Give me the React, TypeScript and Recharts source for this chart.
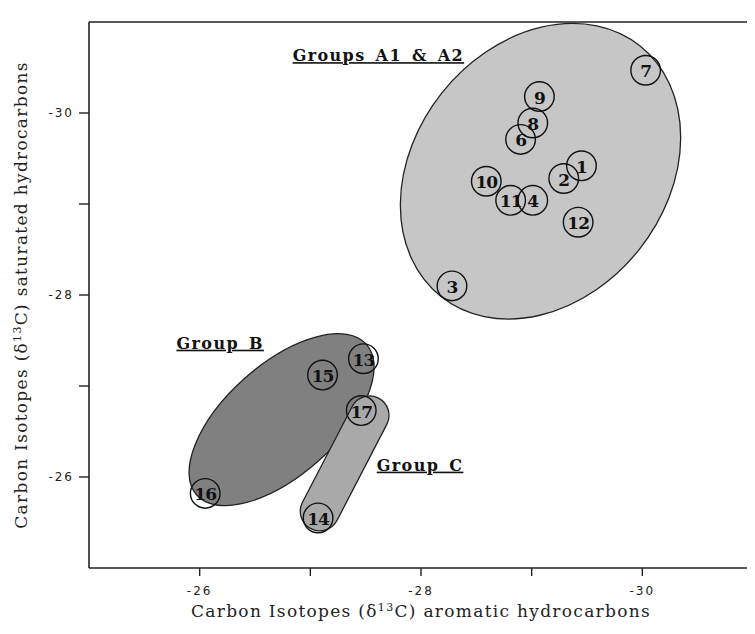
import React from 'react';
import { ScatterChart, Scatter, XAxis, YAxis, Label, ReferenceLine } from 'recharts';

// ---- data ----
const sampleIds = ['1', '2', '3', '4', '6', '7', '8', '9', '10', '11', '12', '13', '14', '15', '16', '17'];
const aromaticD13C = [-29.45, -29.29, -28.28, -29.01, -28.9, -30.03, -29.01, -29.07, -28.59, -28.81, -29.42, -27.48, -27.07, -27.11, -26.05, -27.46];
const saturatedD13C = [-29.42, -29.28, -28.1, -29.04, -29.71, -30.47, -29.89, -30.18, -29.25, -29.04, -28.8, -27.3, -25.55, -27.12, -25.82, -26.73];

const groupNames = ['A', 'B', 'C'];
const groupCenterX = [-29.08, -26.74, -27.31];
const groupCenterY = [-29.36, -26.63, -26.15];

const groupLabelTexts = ['Groups A1 & A2', 'Group B', 'Group C'];
const groupLabelX = [-26.84, -25.79, -27.6];
const groupLabelY = [-30.57, -27.41, -26.07];

const axisTicks = [-30, -29, -28, -27, -26];
const axisDomain: [number, number] = [-31, -25];

// ---- derived tables ----
const samples = sampleIds.map((id, i) => ({ id, x: aromaticD13C[i], y: saturatedD13C[i] }));
const regions = groupNames.map((g, i) => ({ group: g, x: groupCenterX[i], y: groupCenterY[i] }));
const groupLabels = groupLabelTexts.map((t, i) => ({ text: t, x: groupLabelX[i], y: groupLabelY[i] }));

// ---- styles ----
const regionStyles: Record<string, any> = {
  A: { kind: 'ellipse', rx: 160, ry: 126, angle: -51.5, fill: '#c6c6c6' },
  B: { kind: 'ellipse', rx: 113.5, ry: 55.4, angle: -41.6, fill: '#808080' },
  C: { kind: 'capsule', w: 39, h: 147, angle: 27.4, fill: '#a9a9a9' },
};

const serif = '"DejaVu Serif", "Liberation Serif", serif';
const tickFont = { fontFamily: '"DejaVu Sans", sans-serif', fontSize: 12, fill: '#222', letterSpacing: 2 };

const RegionShape = (props: any) => {
  const { cx, cy, payload } = props;
  const s = regionStyles[payload.group];
  if (s.kind === 'ellipse') {
    return (
      <ellipse
        cx={cx}
        cy={cy}
        rx={s.rx}
        ry={s.ry}
        transform={`rotate(${s.angle} ${cx} ${cy})`}
        fill={s.fill}
        stroke="#222"
        strokeWidth={1.3}
      />
    );
  }
  return (
    <rect
      x={cx - s.w / 2}
      y={cy - s.h / 2}
      width={s.w}
      height={s.h}
      rx={s.w / 2}
      ry={s.w / 2}
      transform={`rotate(${s.angle} ${cx} ${cy})`}
      fill={s.fill}
      stroke="#222"
      strokeWidth={1.3}
    />
  );
};

const SampleShape = (props: any) => {
  const { cx, cy, payload } = props;
  return (
    <g>
      <circle cx={cx} cy={cy} r={14.8} fill="none" stroke="#111" strokeWidth={1.4} />
      <text
        x={cx}
        y={cy + 1}
        textAnchor="middle"
        dominantBaseline="central"
        fontFamily={serif}
        fontWeight="bold"
        fontSize={17}
        letterSpacing={-1}
        fill="#111"
      >
        {payload.id}
      </text>
    </g>
  );
};

const GroupLabelShape = (props: any) => {
  const { cx, cy, payload } = props;
  return (
    <text
      x={cx}
      y={cy}
      fontFamily={serif}
      fontWeight="bold"
      fontSize={16}
      letterSpacing={1.4}
      wordSpacing={3}
      fill="#111"
      style={{ textDecoration: 'underline' }}
    >
      {payload.text}
    </text>
  );
};

const labelStyle = { fontFamily: serif, fontSize: 17, fill: '#222', letterSpacing: 1.3 };

const XTitle = (props: any) => {
  const vb = props.viewBox;
  const x = vb.x + vb.width / 2;
  const y = vb.y + vb.height - 17;
  return (
    <text x={x} y={y} textAnchor="middle" style={labelStyle}>
      Carbon Isotopes (δ<tspan dy={-6} fontSize={11}>13</tspan>
      <tspan dy={6}>C) aromatic hydrocarbons</tspan>
    </text>
  );
};

const YTitle = (props: any) => {
  const vb = props.viewBox;
  const x = vb.x + 19;
  const y = vb.y + vb.height / 2;
  return (
    <text x={x} y={y} textAnchor="middle" transform={`rotate(-90 ${x} ${y})`} style={labelStyle}>
      Carbon Isotopes (δ<tspan dy={-6} fontSize={11}>13</tspan>
      <tspan dy={6}>C) saturated hydrocarbons</tspan>
    </text>
  );
};

const evenOnly = (v: number) => (v % 2 === 0 ? String(v) : '');

export default function App() {
  return (
    <ScatterChart width={747} height={626} margin={{ top: 4, right: 2, bottom: 0, left: 0 }}>
      <XAxis
        dataKey="x"
        type="number"
        domain={axisDomain}
        reversed
        ticks={axisTicks}
        tickFormatter={evenOnly}
        height={66}
        tickSize={8}
        tickMargin={10}
        tick={tickFont}
        axisLine={{ stroke: '#222', strokeWidth: 1.6 }}
        tickLine={{ stroke: '#222', strokeWidth: 1.4 }}
      >
        <Label content={<XTitle />} />
      </XAxis>
      <XAxis
        xAxisId="top"
        orientation="top"
        dataKey="x"
        type="number"
        domain={axisDomain}
        reversed
        ticks={axisTicks}
        tickFormatter={() => ''}
        height={10}
        tickSize={9}
        axisLine={{ stroke: '#222', strokeWidth: 1.6 }}
        tickLine={{ stroke: '#222', strokeWidth: 1.4 }}
      />
      <YAxis
        dataKey="y"
        type="number"
        domain={axisDomain}
        reversed
        ticks={axisTicks}
        tickFormatter={evenOnly}
        width={81}
        tickSize={10}
        tickMargin={5}
        tick={tickFont}
        axisLine={{ stroke: '#222', strokeWidth: 1.6 }}
        tickLine={{ stroke: '#222', strokeWidth: 1.4 }}
      >
        <Label content={<YTitle />} />
      </YAxis>
      <ReferenceLine x={-31} stroke="#b5b5b5" strokeWidth={1.2} />
      <Scatter data={regions} shape={<RegionShape />} isAnimationActive={false} />
      <Scatter data={samples} shape={<SampleShape />} isAnimationActive={false} />
      <Scatter data={groupLabels} shape={<GroupLabelShape />} isAnimationActive={false} />
    </ScatterChart>
  );
}
